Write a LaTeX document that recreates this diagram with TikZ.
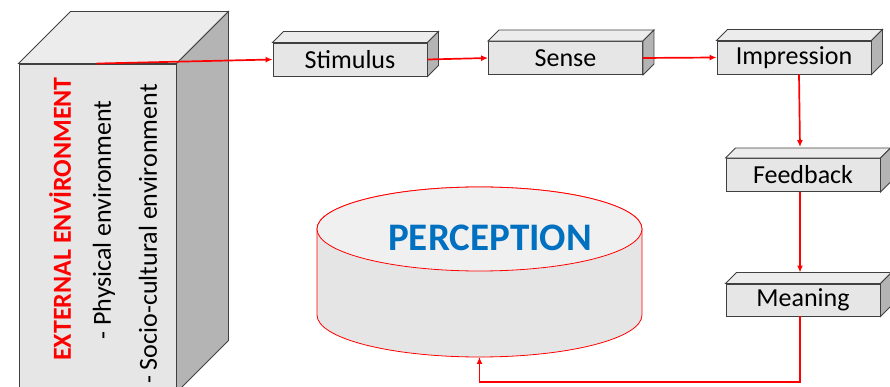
\documentclass[tikz,border=0pt]{standalone}
\usepackage{fontspec}
\setmainfont{Carlito}
\usetikzlibrary{arrows.meta}
\definecolor{frontc}{RGB}{231,230,230}
\definecolor{topc}{RGB}{236,236,236}
\definecolor{sidec}{RGB}{180,180,180}
\definecolor{cyltop}{RGB}{240,240,240}
\definecolor{cylbody}{RGB}{229,229,229}
\definecolor{percblue}{RGB}{0,112,192}
\tikzset{
  facestyle/.style={draw=black!75, line width=0.9pt},
  cubebox/.style={facestyle, fill=frontc, minimum width=154pt, minimum height=33pt, inner sep=0pt, font=\fontsize{26}{30}\selectfont},
  arr/.style={red, line width=1.7pt, -{Latex[length=7pt,width=6pt]}},
  sidetext/.style={rotate=90, inner sep=0pt, font=\fontsize{26}{30}\selectfont},
}
\newcommand{\cubefaces}[2]{%
  \filldraw[facestyle, fill=topc] (#1.north west) -- ++(#2,#2) -- ([shift={(#2,#2)}]#1.north east) -- (#1.north east) -- cycle;
  \filldraw[facestyle, fill=sidec] (#1.north east) -- ++(#2,#2) -- ([shift={(#2,#2)}]#1.south east) -- (#1.south east) -- cycle;}
\begin{document}
\begin{tikzpicture}[x=1pt,y=1pt]
\useasboundingbox (0,0) rectangle (890,387);
\clip (0,0) rectangle (890,387);
% external environment block
\node[facestyle, fill=frontc, minimum width=157pt, minimum height=328pt, inner sep=0pt] (ext) at (97.5,159) {};
\cubefaces{ext}{52}
\node[sidetext, text=red, font=\fontsize{26}{30}\selectfont\bfseries] (t1) at (60,168) {EXTERNAL ENVİRONMENT};
\node[sidetext] (t2) at (104,167) {- Physical environment};
\node[sidetext] (t3) at (148,153) {- Socio-cultural environment};
% process boxes
\node[cubebox] (stim) at (350,327.5) {Stimulus};
\cubefaces{stim}{11}
\node[cubebox] (sense) at (565.5,329) {Sense};
\cubefaces{sense}{11}
\node[cubebox] (imp) at (794,329.5) {Impression};
\cubefaces{imp}{11}
\node[cubebox] (fb) at (803,212) {Feedback};
\cubefaces{fb}{10}
\node[cubebox, minimum height=32pt] (mean) at (803,87) {Meaning};
\cubefaces{mean}{11}
% perception cylinder
\filldraw[draw=red, line width=0.8pt, fill=cylbody] (317,158) -- (317,72) arc[start angle=180, end angle=360, x radius=162.5, y radius=42] -- (642,158) arc[start angle=0, end angle=180, x radius=162.5, y radius=42] -- cycle;
\filldraw[draw=red, line width=0.8pt, fill=cyltop] (479.5,158) ellipse[x radius=162.5, y radius=42];
\node[text=percblue, font=\fontsize{39}{45}\selectfont\bfseries] (perc) at (490,149) {PERCEPTION};
\coordinate (cylbot) at (479.5,30);
\coordinate (turn) at (800,5);
% connectors
\draw[arr] ([xshift=78]ext.north west) -- (stim.west);
\draw[arr] (stim.east) -- (sense.west);
\draw[arr] (sense.east) -- (imp.west);
\draw[arr] ([xshift=5]imp.south) -- ([xshift=-3,yshift=11]fb.north);
\draw[arr] ([xshift=-3]fb.south) -- ([xshift=-3,yshift=11]mean.north);
\draw[arr] (mean.south -| turn) -- (turn) -| (cylbot);
\end{tikzpicture}
\end{document}
